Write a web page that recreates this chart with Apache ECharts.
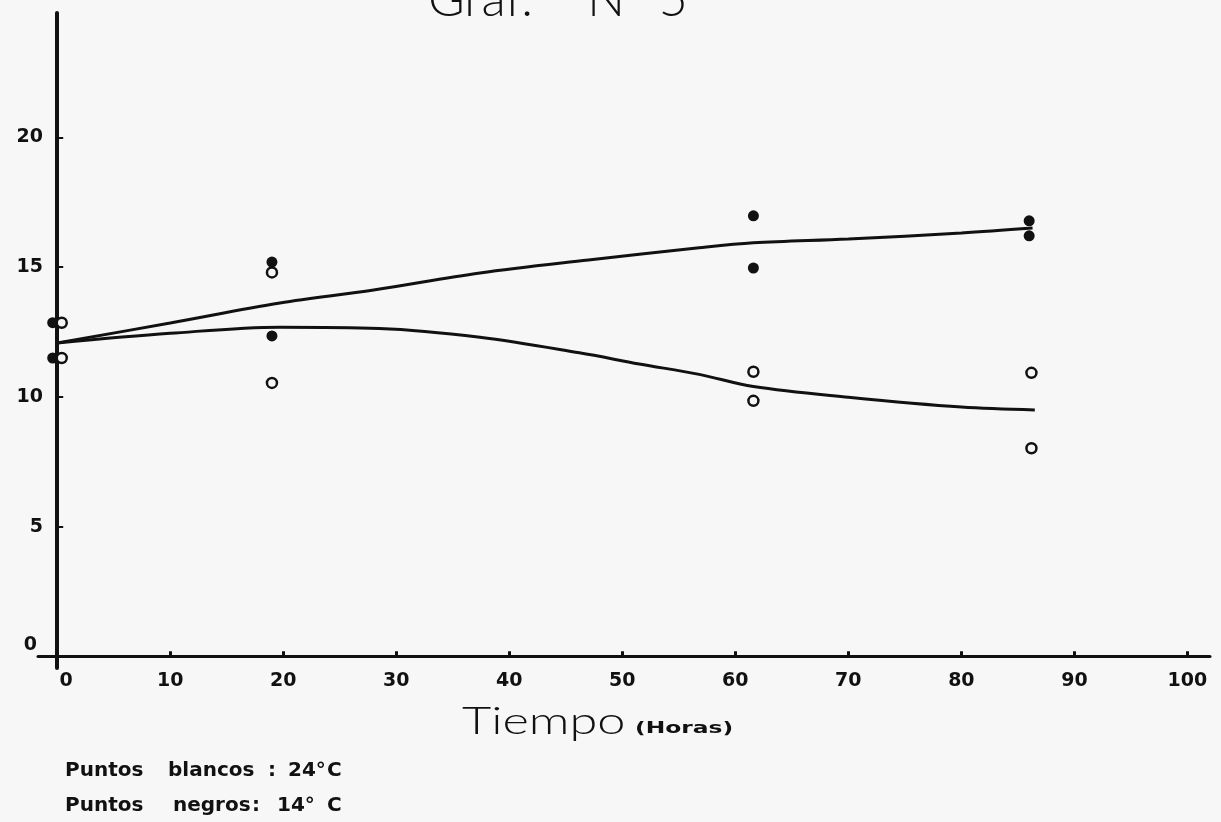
<!DOCTYPE html>
<html>
<head>
<meta charset="utf-8">
<title>Graf. Nº 5</title>
<script src="https://cdn.jsdelivr.net/npm/echarts@6/dist/echarts.min.js"></script>
<style>
  html, body { margin: 0; padding: 0; background: #f7f7f7; }
  #chart { width: 1221px; height: 822px; }
</style>
</head>
<body>
<div id="chart"></div>
<script>
// Tick labels
const xTickLabels = [0, 10, 20, 30, 40, 50, 60, 70, 80, 90, 100];
const yTickLabels = [0, 5, 10, 15, 20];

// Measurements at 24 °C (open circles): [hours, value]
const puntosBlancos = [
  [0.4, 12.86], [0.4, 11.5],
  [19, 14.8], [19, 10.54],
  [61.6, 10.97], [61.6, 9.85],
  [86.2, 10.93], [86.2, 8.02]
];

// Measurements at 14 °C (filled dots): [hours, value]
const puntosNegros = [
  [-0.4, 12.86], [-0.4, 11.5],
  [19, 15.2], [19, 12.35],
  [61.6, 16.98], [61.6, 14.97],
  [86, 16.79], [86, 16.21]
];

// Hand-fitted trend curves
const curvaNegros = [
  [0, 12.08], [10, 12.85], [19.7, 13.62], [28, 14.12], [37.4, 14.78],
  [47, 15.28], [56.8, 15.75], [61.6, 15.94], [70, 16.09], [80, 16.32], [86.3, 16.51]
];
const curvaBlancos = [
  [0, 12.08], [10, 12.45], [19.7, 12.69], [28.5, 12.64], [37.4, 12.3],
  [46.2, 11.7], [51.5, 11.27], [56.8, 10.87], [61.6, 10.4], [70, 9.99],
  [80, 9.61], [86.5, 9.5]
];

const INK = '#111111';
const BG = '#f7f7f7';
const boldFont = 'DejaVu Sans';

const noteStyle = (w) => ({ fontFamily: boldFont, fontWeight: 'bold', fontSize: 20, color: INK, width: w });

const chart = echarts.init(document.getElementById('chart'), null, { renderer: 'canvas' });

chart.setOption({
  backgroundColor: BG,
  animation: false,
  title: [
    {
      text: 'Graf.    Nº 5',
      left: 423,
      top: -30,
      textStyle: { fontFamily: 'Lato', fontWeight: 300, fontSize: 50, color: INK }
    },
    {
      // legend note for the two temperatures
      text: '{p1|Puntos}{w1|blancos}{c1|:}{t1|24°}{C|C}\n{p2|Puntos}{w2|negros}{c2|:}{t2|14°}{C|C}',
      left: 60,
      top: 748,
      textStyle: {
        lineHeight: 35,
        color: INK,
        rich: {
          p1: noteStyle(103), w1: noteStyle(100), c1: noteStyle(20), t1: noteStyle(39),
          p2: noteStyle(108), w2: noteStyle(79), c2: noteStyle(25), t2: noteStyle(50),
          C: noteStyle(20)
        }
      }
    }
  ],
  graphic: [
    {
      type: 'text',
      x: 462,
      y: 703,
      scaleX: 1.33,
      style: {
        text: 'Tiempo',
        font: '300 38px Lato',
        fill: INK,
        textAlign: 'left',
        textVerticalAlign: 'top'
      }
    },
    {
      type: 'text',
      x: 635,
      y: 721,
      scaleX: 1.46,
      style: {
        text: '(Horas)',
        font: 'bold 16px "DejaVu Sans"',
        fill: INK,
        textAlign: 'left',
        textVerticalAlign: 'top'
      }
    }
  ],
  grid: { left: 38, right: 11, top: 13, bottom: 154, outerBoundsMode: 'none' },
  xAxis: {
    type: 'value',
    min: -1.7,
    max: 102,
    splitLine: { show: false },
    axisLine: { onZero: true, lineStyle: { color: INK, width: 3 } },
    axisTick: {
      show: true, inside: true, length: 5,
      customValues: xTickLabels.filter(v => v !== 0),
      lineStyle: { color: INK, width: 3 }
    },
    axisLabel: {
      customValues: xTickLabels,
      margin: 4,
      fontFamily: boldFont, fontWeight: 'bold', fontSize: 19, color: INK,
      formatter: v => (v === 0 ? '{z|0}' : String(v)),
      rich: { z: { fontFamily: boldFont, fontWeight: 'bold', fontSize: 19, color: INK, padding: [0, 0, 0, 18] } }
    }
  },
  yAxis: {
    type: 'value',
    min: -0.45,
    max: 24.8,
    splitLine: { show: false },
    axisLine: { onZero: true, lineStyle: { color: INK, width: 4 } },
    axisTick: {
      show: true, inside: true, length: 6,
      customValues: yTickLabels.filter(v => v !== 0),
      lineStyle: { color: INK, width: 2 }
    },
    axisLabel: {
      customValues: yTickLabels,
      margin: -5,
      fontFamily: boldFont, fontWeight: 'bold', fontSize: 19, color: INK,
      formatter: v => (v === 0 ? '{z|0}' : String(v)),
      rich: { z: { fontFamily: boldFont, fontWeight: 'bold', fontSize: 19, color: INK, padding: [0, 6, 22, 0] } }
    }
  },
  series: [
    {
      name: 'curva 14 °C',
      type: 'line',
      data: curvaNegros,
      smooth: 0.35,
      showSymbol: false,
      lineStyle: { color: INK, width: 3 },
      z: 2
    },
    {
      name: 'curva 24 °C',
      type: 'line',
      data: curvaBlancos,
      smooth: 0.35,
      showSymbol: false,
      lineStyle: { color: INK, width: 3 },
      z: 2
    },
    {
      name: '14 °C',
      type: 'scatter',
      data: puntosNegros,
      symbol: 'circle',
      symbolSize: 11,
      itemStyle: { color: INK, opacity: 1 },
      z: 3
    },
    {
      name: '24 °C',
      type: 'scatter',
      data: puntosBlancos,
      symbol: 'circle',
      symbolSize: 10,
      itemStyle: { color: BG, borderColor: INK, borderWidth: 2.5, opacity: 1 },
      z: 4
    }
  ]
});
</script>
</body>
</html>
